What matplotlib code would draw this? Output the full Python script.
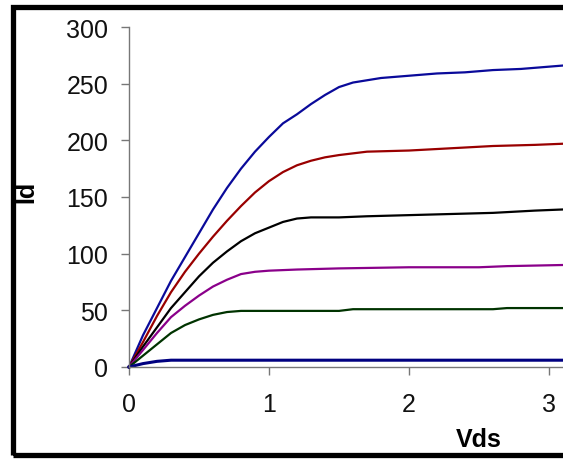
import numpy as np
import matplotlib
matplotlib.use("Agg")
import matplotlib.pyplot as plt
from matplotlib.patches import Rectangle

# Id vs Vds curves
vds_top = [0, 0.1, 0.2, 0.3, 0.4, 0.5, 0.6, 0.7, 0.8, 0.9, 1.0, 1.1, 1.2, 1.3, 1.4, 1.5, 1.6, 1.8, 2.0, 2.2, 2.4, 2.6, 2.8, 3.0, 3.1]
id_top = [0, 28, 52, 76, 97, 118, 139, 158, 175, 190, 203, 215, 223, 232, 240, 247, 251, 255, 257, 259, 260, 262, 263, 265, 266]

vds_red = [0, 0.1, 0.2, 0.3, 0.4, 0.5, 0.6, 0.7, 0.8, 0.9, 1.0, 1.1, 1.2, 1.3, 1.4, 1.5, 1.7, 2.0, 2.3, 2.6, 2.9, 3.1]
id_red = [0, 22, 45, 66, 84, 100, 115, 129, 142, 154, 164, 172, 178, 182, 185, 187, 190, 191, 193, 195, 196, 197]

vds_black = [0, 0.1, 0.2, 0.3, 0.4, 0.5, 0.6, 0.7, 0.8, 0.9, 1.0, 1.1, 1.2, 1.3, 1.5, 1.7, 2.0, 2.3, 2.6, 2.9, 3.1]
id_black = [0, 18, 35, 52, 66, 80, 92, 102, 111, 118, 123, 128, 131, 132, 132, 133, 134, 135, 136, 138, 139]

vds_purple = [0, 0.1, 0.2, 0.3, 0.4, 0.5, 0.6, 0.7, 0.8, 0.9, 1.0, 1.2, 1.5, 2.0, 2.5, 2.7, 3.1]
id_purple = [0, 15, 30, 44, 54, 63, 71, 77, 82, 84, 85, 86, 87, 88, 88, 89, 90]

vds_green = [0, 0.1, 0.2, 0.3, 0.4, 0.5, 0.6, 0.7, 0.8, 1.5, 1.6, 2.6, 2.7, 3.1]
id_green = [0, 10, 20, 30, 37, 42, 46, 48.5, 49.5, 49.5, 51, 51, 52, 52]

vds_low = [0, 0.1, 0.2, 0.3, 3.1]
id_low = [0, 3, 5, 6, 6]

curves = [
    (vds_top, id_top, "#0a0a9a", 1.6),
    (vds_red, id_red, "#990000", 1.6),
    (vds_black, id_black, "#000000", 1.6),
    (vds_purple, id_purple, "#8a008a", 1.6),
    (vds_green, id_green, "#003300", 1.6),
    (vds_low, id_low, "#000080", 2.2),
]

plt.rcParams["font.family"] = "Liberation Sans"

fig = plt.figure(figsize=(5.63, 4.60), dpi=100)
ax = fig.add_axes([129 / 563, 92 / 460, 434 / 563, 340 / 460])

for x, y, c, w in curves:
    ax.plot(x, y, color=c, lw=w, clip_on=False, solid_joinstyle="round")

ax.set_xlim(0, 3.1)
ax.set_ylim(0, 300)
ax.set_xticks([0, 1, 2, 3])
ax.set_yticks(np.arange(0, 301, 50))
for s in ["top", "right"]:
    ax.spines[s].set_visible(False)
for s in ["left", "bottom"]:
    ax.spines[s].set_color("#777777")
    ax.spines[s].set_linewidth(1.0)
ax.tick_params(direction="out", length=6, width=1, color="#777777", labelsize=18, labelcolor="#111111")
ax.tick_params(axis="y", pad=9)
ax.tick_params(axis="x", pad=12)

fig.text(479 / 563, 1 - 440 / 460, "Vds", fontsize=18, fontweight="bold", ha="center", va="center")
fig.text(26 / 563, 1 - 192 / 460, "Id", fontsize=18, fontweight="bold", rotation=90, ha="center", va="center")

# black frame around the chart, cut off on the right
fig.patches.append(Rectangle((12.5 / 563, 4 / 460), 600 / 563, 448.5 / 460, transform=fig.transFigure,
                             fill=False, edgecolor="black", linewidth=3.8))

fig.savefig("out.png", dpi=100)
